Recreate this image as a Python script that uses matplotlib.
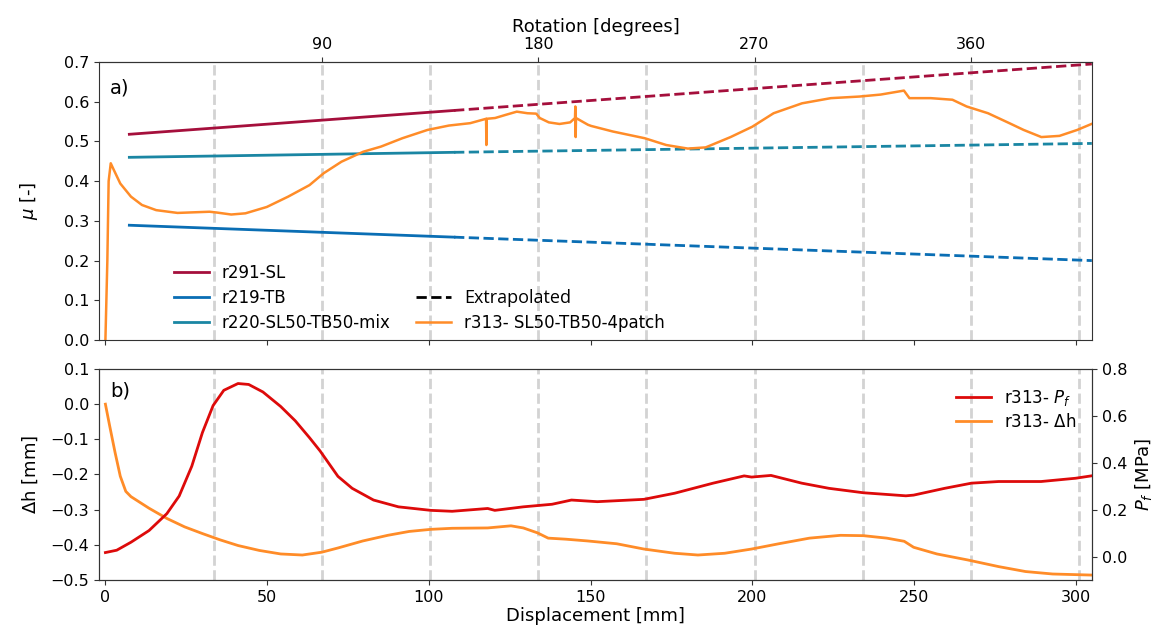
#!/usr/bin/env python3

import numpy as np
import matplotlib.pyplot as plt
from matplotlib.lines import Line2D

# --- data ---
# straight-line fits: [x_start, x_switch, x_end], [y_start, y_switch, y_end]
fit_x = [7.4, 107.8, 305.0]
mu_sl = [0.518, 0.578, 0.695]
mu_tb = [0.289, 0.259, 0.200]
mu_mix = [0.460, 0.4726, 0.495]

# r313 friction coefficient
mu_x = [0, 0.6, 1.0, 1.65, 2.5, 4.6, 7.9, 11.3, 15.7, 22.3, 32.2, 34.4, 38.9, 43.3, 49.9,
        56.5, 63.1, 67.5, 73.0, 79.7, 85.2, 91.8, 99.6, 106.2, 112.8, 117.7, 117.8, 117.9,
        120.5, 123.8, 127.2, 130.5, 133.2, 134.3, 137.1, 140.4, 143.7, 145.2, 145.3, 145.4,
        145.5, 149.2, 150.2, 156.9, 166.8, 173.4, 180.1, 185.6, 193.3, 200.0, 206.6, 215.4,
        224.3, 233.1, 239.7, 246.9, 248.6, 255.2, 261.9, 266.3, 272.9, 279.5, 283.9, 289.4,
        295.0, 300.5, 304.9]
mu_y = [0.0, 0.20, 0.40, 0.445, 0.43, 0.394, 0.361, 0.34, 0.327, 0.320, 0.323, 0.321, 0.316,
        0.319, 0.335, 0.361, 0.39, 0.42, 0.449, 0.474, 0.487, 0.508, 0.529, 0.54, 0.546, 0.557,
        0.491, 0.557, 0.559, 0.567, 0.575, 0.571, 0.57, 0.559, 0.548, 0.544, 0.548, 0.559,
        0.588, 0.511, 0.559, 0.542, 0.539, 0.525, 0.508, 0.491, 0.482, 0.485, 0.511, 0.537,
        0.571, 0.596, 0.609, 0.613, 0.618, 0.628, 0.609, 0.609, 0.605, 0.588, 0.571, 0.546,
        0.529, 0.511, 0.514, 0.529, 0.544]

# r313 height change
dh_x = [0, 1.3, 3.0, 4.6, 6.3, 7.9, 13.5, 19.0, 24.5, 30.0, 35.5, 41.0, 47.6, 54.2, 60.9,
        66.9, 71.9, 79.6, 87.3, 93.9, 100.6, 107.2, 118.2, 125.4, 129.2, 133.6, 136.9, 142.4,
        149.1, 158.1, 166.5, 176.0, 183.2, 191.5, 199.8, 208.2, 217.7, 227.3, 234.4, 241.6,
        247.0, 249.9, 257.1, 266.6, 276.2, 284.5, 292.9, 304.8]
dh_y = [0.0, -0.061, -0.138, -0.205, -0.248, -0.263, -0.296, -0.325, -0.349, -0.368, -0.386,
        -0.402, -0.416, -0.426, -0.429, -0.421, -0.409, -0.389, -0.373, -0.362, -0.356, -0.353,
        -0.352, -0.346, -0.352, -0.366, -0.381, -0.384, -0.389, -0.397, -0.412, -0.424, -0.429,
        -0.424, -0.412, -0.397, -0.381, -0.373, -0.374, -0.381, -0.39, -0.407, -0.426, -0.443,
        -0.462, -0.476, -0.483, -0.486]

# r313 normal pressure
pf_x = [0, 3.5, 7.9, 13.5, 19.0, 22.8, 26.7, 30.0, 33.3, 36.6, 41.0, 44.3, 48.7, 54.2, 58.7,
        63.1, 66.4, 71.9, 76.3, 82.9, 90.6, 100.6, 107.2, 118.2, 120.4, 129.2, 138.1, 144.1,
        152.1, 166.5, 176.0, 187.9, 197.5, 199.8, 205.8, 215.3, 223.7, 234.4, 247.5, 249.9,
        259.5, 267.8, 276.2, 289.3, 300.0, 304.8]
pf_y = [0.017, 0.027, 0.061, 0.111, 0.183, 0.258, 0.385, 0.529, 0.644, 0.709, 0.738, 0.734,
        0.702, 0.64, 0.579, 0.507, 0.45, 0.342, 0.291, 0.241, 0.212, 0.197, 0.193, 0.205, 0.197,
        0.212, 0.223, 0.241, 0.234, 0.244, 0.27, 0.313, 0.344, 0.339, 0.346, 0.313, 0.291, 0.272,
        0.259, 0.262, 0.291, 0.313, 0.32, 0.32, 0.334, 0.344]

rot_ticks = [90, 180, 270, 360]
grid_deg = [45, 90, 135, 180, 225, 270, 315, 360, 405]
MM_PER_90DEG = 66.9

c_sl = '#a50f3c'
c_tb = '#0a6eb4'
c_mix = '#1a86a3'
c_or = '#ff8c28'
c_red = '#dd0a0a'
edge = '#333333'

plt.rcParams['font.size'] = 12
plt.rcParams['axes.labelsize'] = 13
plt.rcParams['xtick.labelsize'] = 11.5
plt.rcParams['ytick.labelsize'] = 11.5
plt.rcParams['axes.edgecolor'] = edge
plt.rcParams['xtick.color'] = edge
plt.rcParams['ytick.color'] = edge
plt.rcParams['xtick.labelcolor'] = 'black'
plt.rcParams['ytick.labelcolor'] = 'black'

fig = plt.figure(figsize=(11.64, 6.34), dpi=100)
ax1 = fig.add_axes([0.085, 0.4637, 0.853, 0.4385])
ax2 = fig.add_axes([0.085, 0.0852, 0.853, 0.3328])

for ax in (ax1, ax2):
	for d in grid_deg:
		ax.axvline(d * MM_PER_90DEG / 90, color='#d3d3d3', ls='--', lw=2, zorder=0)
	ax.set_xlim(-2, 305)

# a) friction
for y, c, lab in ((mu_sl, c_sl, 'r291-SL'), (mu_tb, c_tb, 'r219-TB'), (mu_mix, c_mix, 'r220-SL50-TB50-mix')):
	ax1.plot(fit_x[:2], y[:2], color=c, lw=2, label=lab)
	ax1.plot(fit_x[1:], y[1:], color=c, lw=2, ls='--')
ax1.plot(mu_x, mu_y, color=c_or, lw=1.8, label='r313- SL50-TB50-4patch')
ax1.set_ylim(0, 0.7)
ax1.set_yticks(np.arange(0, 0.71, 0.1))
ax1.yaxis.set_major_formatter('{x:.1f}')
ax1.set_xticks([0, 50, 100, 150, 200, 250, 300])
ax1.set_xticklabels([])
ax1.set_ylabel(r'$\mu$ [-]')
ax1.text(0.011, 0.94, 'a)', transform=ax1.transAxes, fontsize=14, va='top')

secax = ax1.secondary_xaxis('top', functions=(lambda x: x * 90 / MM_PER_90DEG, lambda d: d * MM_PER_90DEG / 90))
secax.set_xticks(rot_ticks)
secax.set_xlabel('Rotation [degrees]')

h, l = ax1.get_legend_handles_labels()
blank = Line2D([], [], color='none')
ext = Line2D([], [], color='black', ls='--', lw=2)
leg = ax1.legend([h[0], h[1], h[2], blank, ext, h[3]],
                 [l[0], l[1], l[2], '', 'Extrapolated', l[3]],
                 ncol=2, frameon=False, loc='lower left', bbox_to_anchor=(0.06, -0.025),
                 columnspacing=1.5, handlelength=2.1, labelspacing=0.42)
leg.get_texts()[4].set_fontfamily('Open Sans')
leg.get_texts()[4].set_fontsize(13)

# b) height change and pressure
l1, = ax2.plot(dh_x, dh_y, color=c_or, lw=2, label=r'r313- $\Delta$h')
ax2.set_ylim(-0.5, 0.1)
ax2.yaxis.set_major_formatter('{x:.1f}')
ax2.set_xlabel('Displacement [mm]', labelpad=2)
ax2.set_ylabel(r'$\Delta$h [mm]')
ax2.text(0.011, 0.94, 'b)', transform=ax2.transAxes, fontsize=14, va='top')

ax3 = ax2.twinx()
l2, = ax3.plot(pf_x, pf_y, color=c_red, lw=2, label=r'r313- $P_f$')
ax3.set_ylim(-0.1, 0.8)
ax3.set_yticks([0.0, 0.2, 0.4, 0.6, 0.8])
ax3.yaxis.set_major_formatter('{x:.1f}')
ax3.set_ylabel(r'$P_f$ [MPa]')
ax3.legend([l2, l1], [l2.get_label(), l1.get_label()], loc='upper right', frameon=False,
           bbox_to_anchor=(1.0, 0.98), handlelength=2.1, labelspacing=0.3)

# both left labels sit at the same x, as in the original
ax1.yaxis.set_label_coords(-0.059, 0.5)
ax2.yaxis.set_label_coords(-0.059, 0.5)

plt.savefig('out.png', dpi=100)
